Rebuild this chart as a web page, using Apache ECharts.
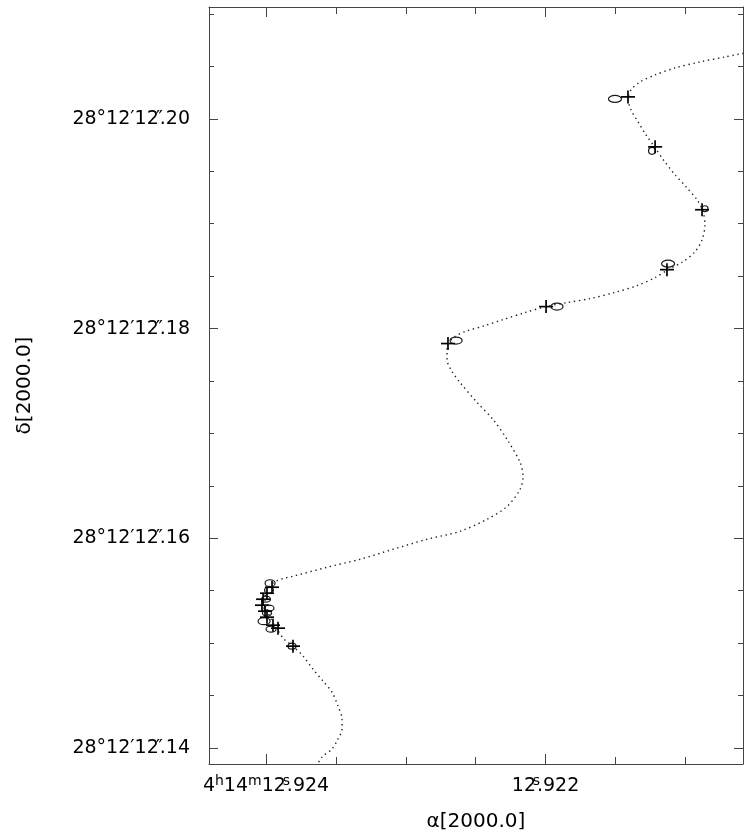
<!DOCTYPE html>
<html>
<head>
<meta charset="utf-8">
<script src="https://cdn.jsdelivr.net/npm/echarts@6/dist/echarts.min.js"></script>
<style>
  html, body { margin: 0; padding: 0; background: #fff; }
  #chart { width: 744px; height: 837px; }
</style>
</head>
<body>
<div id="chart"></div>
<script>
// Right ascension: seconds of time after 4h14m. Declination: arcseconds after 28°12′.

// Model path (parallax + proper motion), sampled along the track
const pathRa = [
  12.923657, 12.923599, 12.923528, 12.923485, 12.923456, 12.923456, 12.923485, 12.923528,
  12.923592, 12.923664, 12.923735, 12.923807, 12.923871, 12.923921, 12.923964, 12.923993,
  12.924007, 12.924000, 12.923971, 12.923928, 12.923871, 12.923807, 12.923563, 12.923327,
  12.923091, 12.922848, 12.922612, 12.922419, 12.922275, 12.922182, 12.922161, 12.922182,
  12.922275, 12.922376, 12.922490, 12.922612, 12.922669, 12.922705, 12.922705, 12.922690,
  12.922648, 12.922576, 12.922433, 12.922304, 12.922147, 12.921996, 12.921846, 12.921681,
  12.921510, 12.921345, 12.921216, 12.921123, 12.921016, 12.920930, 12.920880, 12.920859,
  12.920873, 12.920916, 12.920995, 12.921073, 12.921152, 12.921216, 12.921281, 12.921338,
  12.921388, 12.921410, 12.921388, 12.921324, 12.921216, 12.921073, 12.920894, 12.920716,
  12.920537
];
const pathDec = [
  12.137810, 12.139143, 12.139905, 12.140857, 12.141810, 12.142762, 12.144000, 12.145333,
  12.146381, 12.147524, 12.148762, 12.149714, 12.150381, 12.151333, 12.152286, 12.153238,
  12.154190, 12.154952, 12.155524, 12.155905, 12.156190, 12.156381, 12.157238, 12.158000,
  12.158952, 12.159905, 12.160667, 12.161810, 12.163048, 12.164667, 12.165905, 12.167238,
  12.169429, 12.171333, 12.172952, 12.174857, 12.175905, 12.177048, 12.178000, 12.178667,
  12.179238, 12.179714, 12.180286, 12.180857, 12.181524, 12.182095, 12.182476, 12.182857,
  12.183429, 12.184095, 12.184857, 12.185619, 12.186381, 12.187333, 12.188476, 12.189905,
  12.191143, 12.192286, 12.193524, 12.194667, 12.196000, 12.197238, 12.198476, 12.199714,
  12.200857, 12.201905, 12.202762, 12.203524, 12.204190, 12.204857, 12.205429, 12.205905,
  12.206381
];

// Model positions at the observation epochs (crosses)
const modelRa = [
  12.921410, 12.921216, 12.920880, 12.921131, 12.921996, 12.922698, 12.923807,
  12.923957, 12.923993, 12.924021, 12.924029, 12.924007, 12.923993, 12.923950, 12.923914
];
const modelDec = [
  12.202095, 12.197333, 12.191333, 12.185619, 12.182095, 12.178571, 12.149714,
  12.155333, 12.154762, 12.154190, 12.153619, 12.153048, 12.152476, 12.151714, 12.151429
];

// Measured positions with their error semi-axes (ellipses)
const obsRa = [
  12.921503, 12.921238, 12.920859, 12.921123, 12.921918, 12.922640, 12.923814,
  12.923971, 12.923979, 12.924000, 12.923979, 12.923993, 12.924014, 12.923964
];
const obsDec = [
  12.201905, 12.196952, 12.191429, 12.186190, 12.182095, 12.178857, 12.149714,
  12.155714, 12.155048, 12.154190, 12.153333, 12.152857, 12.152095, 12.151333
];
const obsErrRa = [
  0.0000465, 0.0000250, 0.0000215, 0.0000465, 0.0000429, 0.0000429, 0.0000286,
  0.0000358, 0.0000322, 0.0000322, 0.0000358, 0.0000322, 0.0000429, 0.0000358
];
const obsErrDec = [
  0.000333, 0.000333, 0.000286, 0.000333, 0.000333, 0.000333, 0.000286,
  0.000333, 0.000286, 0.000286, 0.000286, 0.000286, 0.000333, 0.000286
];

// Axis extents and tick positions
const raRange = [12.920587, 12.924408];
const decRange = [12.138476, 12.210667];
const raMajorTicks = [12.924, 12.922];
const raMinorTicks = [12.9235, 12.9230, 12.9225, 12.9215, 12.9210];
const raTickLabels = ['4{sup|h}14{sup|m}12{sx|s}.924', '12{sx|s}.922'];
const decMajorTicks = [12.14, 12.16, 12.18, 12.20];
const decMinorTicks = [12.145, 12.150, 12.155, 12.165, 12.170, 12.175, 12.185, 12.190, 12.195, 12.205, 12.210];
const decTickLabels = ['28°12′12{sx|″}.14', '28°12′12{sx|″}.16', '28°12′12{sx|″}.18', '28°12′12{sx|″}.20'];

const FONT = 'DejaVu Sans';
const AXIS_COLOR = '#444';
const LABEL_SIZE = 19;

function lookup(ticks, labels, v) {
  for (let i = 0; i < ticks.length; i++) {
    if (Math.abs(ticks[i] - v) < 1e-7) return labels[i];
  }
  return '';
}

const richRa = {
  sup: { fontFamily: FONT, fontSize: 14, color: '#000', padding: [0, 0, 10, 0] },
  sx: { fontFamily: FONT, fontSize: 14, color: '#000', width: 1, align: 'left', padding: [0, 0, 10, 0] }
};
const richDec = {
  sx: { fontFamily: FONT, fontSize: LABEL_SIZE, color: '#000', width: 1, align: 'left' }
};

function xAxisDef(position, ticks, len, withLine, withLabels) {
  return {
    type: 'value', gridIndex: 0, position: position, inverse: true,
    min: raRange[0], max: raRange[1],
    axisLine: { show: withLine, lineStyle: { color: AXIS_COLOR, width: 1 } },
    axisTick: { show: true, inside: true, length: len, customValues: ticks,
                lineStyle: { color: AXIS_COLOR, width: 1 } },
    axisLabel: withLabels ? {
      show: true, customValues: raMajorTicks, margin: 10,
      fontFamily: FONT, fontSize: LABEL_SIZE, color: '#000', rich: richRa,
      formatter: v => lookup(raMajorTicks, raTickLabels, v)
    } : { show: false },
    splitLine: { show: false }, minorTick: { show: false }
  };
}
function yAxisDef(position, ticks, len, withLine, withLabels) {
  return {
    type: 'value', gridIndex: 0, position: position,
    min: decRange[0], max: decRange[1],
    axisLine: { show: withLine, lineStyle: { color: AXIS_COLOR, width: 1 } },
    axisTick: { show: true, inside: true, length: len, customValues: ticks,
                lineStyle: { color: AXIS_COLOR, width: 1 } },
    axisLabel: withLabels ? {
      show: true, customValues: decMajorTicks, margin: 19,
      fontFamily: FONT, fontSize: LABEL_SIZE, color: '#000', rich: richDec,
      formatter: v => lookup(decMajorTicks, decTickLabels, v)
    } : { show: false },
    splitLine: { show: false }, minorTick: { show: false }
  };
}

const xAxes = [
  xAxisDef('bottom', raMajorTicks, 10, true, true),
  xAxisDef('bottom', raMinorTicks, 7, false, false),
  xAxisDef('top', raMajorTicks, 10, true, false),
  xAxisDef('top', raMinorTicks, 7, false, false)
];
xAxes[0].name = 'α[2000.0]';
xAxes[0].nameLocation = 'middle';
xAxes[0].nameGap = 48;
xAxes[0].nameTextStyle = { fontFamily: FONT, fontSize: 20, color: '#000' };

const yAxes = [
  yAxisDef('left', decMajorTicks, 9, true, true),
  yAxisDef('left', decMinorTicks, 5, false, false),
  yAxisDef('right', decMajorTicks, 9, true, false),
  yAxisDef('right', decMinorTicks, 5, false, false)
];
yAxes[0].name = 'δ[2000.0]';
yAxes[0].nameLocation = 'middle';
yAxes[0].nameGap = 174;
yAxes[0].nameTextStyle = { fontFamily: FONT, fontSize: 20, color: '#000' };

const pathData = pathRa.map((x, i) => [x, pathDec[i]]);
const modelData = modelRa.map((x, i) => [x, modelDec[i]]);
const obsData = obsRa.map((x, i) => [x, obsDec[i], obsErrRa[i], obsErrDec[i]]);

const chart = echarts.init(document.getElementById('chart'), null, { renderer: 'canvas' });
chart.setOption({
  animation: false,
  backgroundColor: '#fff',
  grid: { left: 209, right: 1, top: 7, bottom: 72, containLabel: false },
  xAxis: xAxes,
  yAxis: yAxes,
  series: [
    {
      name: 'path', type: 'line', xAxisIndex: 0, yAxisIndex: 0,
      data: pathData, showSymbol: false, smooth: 0.3, clip: true, silent: true,
      lineStyle: { color: '#222', width: 1.4, type: [1.4, 3.6] }
    },
    {
      name: 'observed', type: 'custom', xAxisIndex: 0, yAxisIndex: 0,
      data: obsData, encode: { x: 0, y: 1 }, silent: true,
      renderItem: function (params, api) {
        const ra = api.value(0), dec = api.value(1);
        const c = api.coord([ra, dec]);
        const e = api.coord([ra + api.value(2), dec + api.value(3)]);
        return {
          type: 'ellipse',
          shape: { cx: c[0], cy: c[1], rx: Math.abs(e[0] - c[0]), ry: Math.abs(e[1] - c[1]) },
          style: { fill: null, stroke: '#1a1a1a', lineWidth: 1.2 }
        };
      }
    },
    {
      name: 'model', type: 'custom', xAxisIndex: 0, yAxisIndex: 0,
      data: modelData, encode: { x: 0, y: 1 }, silent: true,
      renderItem: function (params, api) {
        const c = api.coord([api.value(0), api.value(1)]);
        const hw = 7, hh = 6.5;
        const st = { stroke: '#000', lineWidth: 1.7 };
        return {
          type: 'group',
          children: [
            { type: 'line', shape: { x1: c[0] - hw, y1: c[1], x2: c[0] + hw, y2: c[1] }, style: st },
            { type: 'line', shape: { x1: c[0], y1: c[1] - hh, x2: c[0], y2: c[1] + hh }, style: st }
          ]
        };
      }
    }
  ]
});
</script>
</body>
</html>
